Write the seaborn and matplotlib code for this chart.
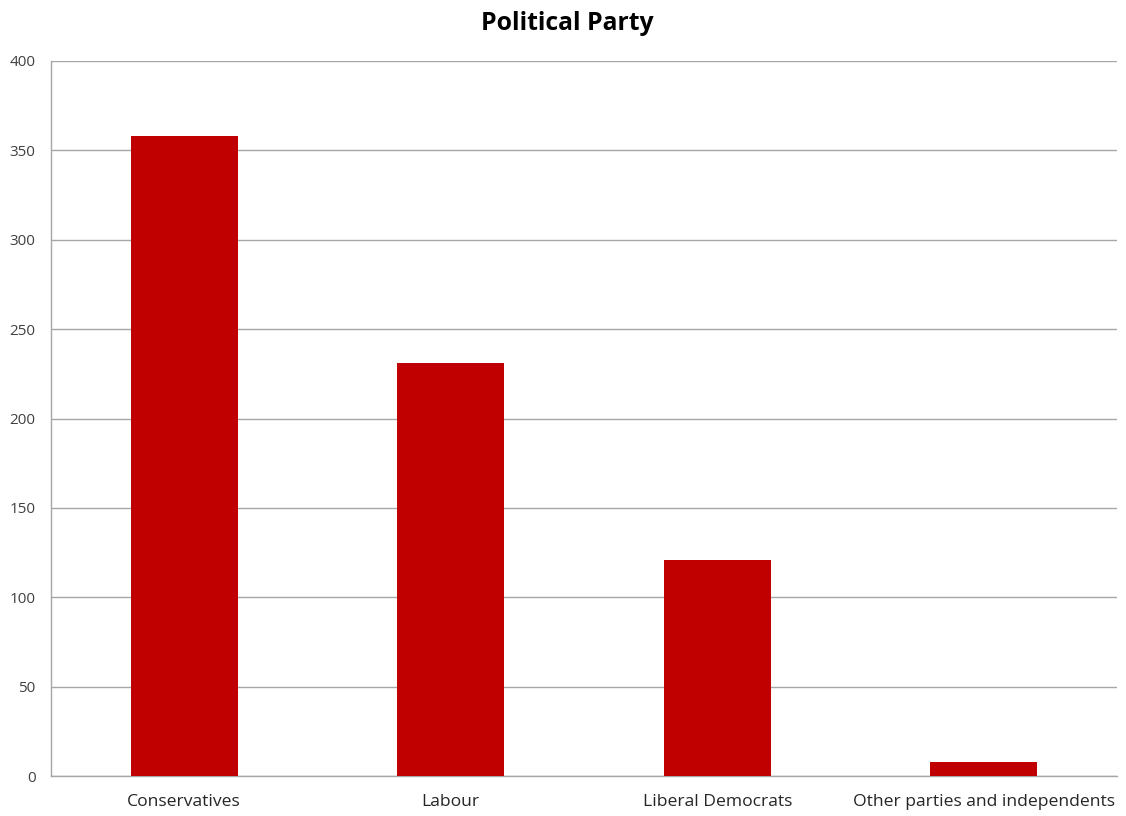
import matplotlib
matplotlib.use("Agg")
import matplotlib.pyplot as plt
import seaborn as sns
import pandas as pd

parties = ["Conservatives", "Labour", "Liberal Democrats", "Other parties and independents"]
seats = [358, 231, 121, 8]
title = "Political Party"
yticks = [0, 50, 100, 150, 200, 250, 300, 350, 400]

sns.set_theme(style="white")
plt.rcParams['font.family'] = ['Open Sans', 'DejaVu Sans']

df = pd.DataFrame({"party": parties, "seats": seats})

fig = plt.figure(figsize=(11.26, 8.16), dpi=100)
ax = fig.add_axes([51/1126, 1-776/816, (1117-51)/1126, (776-61)/816])

sns.barplot(data=df, x="party", y="seats", color="#C00000", width=0.4,
            saturation=1, ax=ax, zorder=3, linewidth=0, edgecolor="none")

ax.set_ylim(0, 400)
ax.set_yticks(yticks)
ax.set_yticklabels([str(v) for v in yticks], fontsize=11, color="#404040")
ax.set_xlim(-0.5, 3.5)
ax.tick_params(axis='x', labelsize=12.6, colors="#404040", length=0, pad=13)
ax.tick_params(axis='y', length=0, pad=11)
for lbl in ax.get_xticklabels():
    lbl.set_color("#262626")
ax.yaxis.grid(True, color="#A6A6A6", linewidth=1, zorder=0)
ax.xaxis.grid(False)
ax.set_xlabel("")
ax.set_ylabel("")
for s in ["top", "right"]:
    ax.spines[s].set_visible(False)
for s in ["left", "bottom"]:
    ax.spines[s].set_color("#A6A6A6")
    ax.spines[s].set_linewidth(1)

fig.text(567/1126, 1-23/816, title, ha="center", va="center",
         fontsize=17.8, fontweight="bold", color="#000000")

fig.savefig("out.png", dpi=100, facecolor="white")
